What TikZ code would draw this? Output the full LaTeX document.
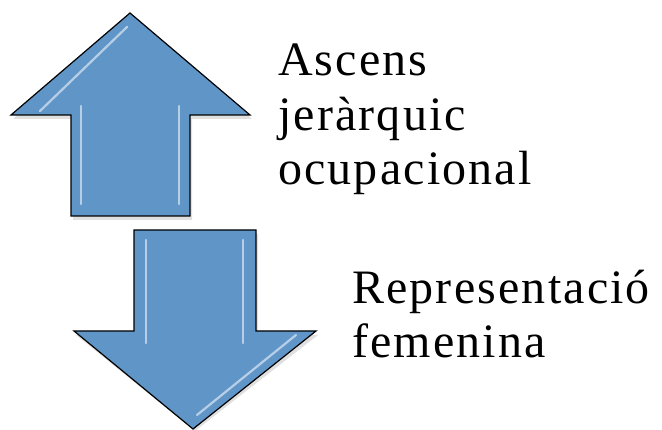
\documentclass[tikz,border=0pt]{standalone}
\usepackage{fontspec}
\setmainfont{Liberation Serif}[LetterSpace=4.5]
\tikzset{
  freccia/.style={fill=frecciablu, draw=black, line width=1.2pt, line join=miter},
  ombra/.style={fill=black, opacity=0.12},
  riflesso/.style={draw=white, opacity=0.55, line width=2.2pt, line cap=round},
  etichetta/.style={anchor=base west, align=left, inner sep=0pt,
    font=\fontsize{48}{54.5}\selectfont}
}
\definecolor{frecciablu}{RGB}{96,149,200}
\begin{document}
\begin{tikzpicture}[x=1pt,y=1pt]
  \useasboundingbox (0,0) rectangle (662,430);
  % Ombre
  \fill[ombra] (132,413) -- (252,311) -- (192,311) -- (192,210) -- (73,210) -- (73,311) -- (13,311) -- cycle;
  \fill[ombra] (136,196) -- (258,196) -- (258,95) -- (318,95) -- (195,-1) -- (76,95) -- (136,95) -- cycle;
  % Freccia su
  \draw[freccia] (130,417) -- (250,315) -- (190,315) -- (190,214) -- (71,214) -- (71,315) -- (11,315) -- cycle;
  \draw[riflesso] (81,324) -- (81,226);
  \draw[riflesso] (179,324) -- (179,226);
  \draw[riflesso] (40,319) -- (127,403);
  % Freccia giu
  \draw[freccia] (134,200) -- (256,200) -- (256,99) -- (316,99) -- (193,1) -- (74,99) -- (134,99) -- cycle;
  \draw[riflesso] (146,190) -- (146,87);
  \draw[riflesso] (243,190) -- (243,87);
  \draw[riflesso] (296,95) -- (197,15);
  % Testi
  \node[etichetta] (ascens) at (278,245) {Ascens\\jeràrquic\\ocupacional};
  \node[etichetta] (repr) at (352,72) {Representació\\femenina};
\end{tikzpicture}
\end{document}
